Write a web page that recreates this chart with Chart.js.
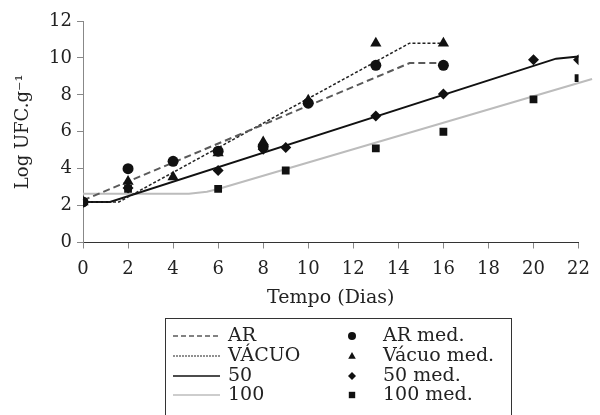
<!DOCTYPE html>
<html>
<head>
<meta charset="utf-8">
<script src="https://cdn.jsdelivr.net/npm/chart.js@4/dist/chart.umd.min.js"></script>
<style>
  html, body { margin: 0; padding: 0; background: #fff; }
  #wrap { width: 600px; height: 415px; }
</style>
</head>
<body>
<div id="wrap"><canvas id="grafico" width="600" height="415"></canvas></div>
<script>
// Curvas ajustadas (modelo)
const arDias = [0, 14.5, 16];
const arCurva = [2.28, 9.72, 9.72];
const vacuoDias = [0, 1.6, 14.5, 16];
const vacuoCurva = [2.2, 2.2, 10.8, 10.8];
const dias50 = [0, 1.2, 21, 22];
const curva50 = [2.2, 2.2, 9.96, 10.08];
const dias100 = [0, 4.7, 5.5, 6, 22.6];
const curva100 = [2.64, 2.64, 2.75, 2.9, 8.86];

// Valores medidos
const arMedDias = [0, 2, 4, 6, 8, 10, 13, 16];
const arMed = [2.2, 4.0, 4.4, 4.95, 5.2, 7.55, 9.6, 9.6];
const vacuoMedDias = [0, 2, 4, 6, 8, 10, 13, 16];
const vacuoMed = [2.2, 3.3, 3.55, 4.85, 5.45, 7.7, 10.8, 10.8];
const med50Dias = [0, 2, 6, 8, 9, 13, 16, 20, 22];
const med50 = [2.2, 2.95, 3.9, 5.05, 5.15, 6.85, 8.05, 9.9, 9.9];
const med100Dias = [0, 2, 6, 9, 13, 16, 20, 22];
const med100 = [2.2, 2.9, 2.9, 3.9, 5.1, 6.0, 7.75, 8.9];

const xTicks = [0, 2, 4, 6, 8, 10, 12, 14, 16, 18, 20, 22];
const yTicks = [0, 2, 4, 6, 8, 10, 12];

const FONTE = '"DejaVu Serif", "Liberation Serif", serif';

const pares = (xs, ys) => xs.map((x, i) => ({ x: x, y: ys[i] }));

const linha = (label, xs, ys, cor, largura, traco) => ({
    label: label,
    data: pares(xs, ys),
    showLine: true,
    borderColor: cor,
    borderWidth: largura,
    borderDash: traco,
    pointRadius: 0,
    fill: false,
    tension: 0,
    order: 10,
    clip: false
});

const pontos = (label, xs, ys, estilo, raio, ordem) => ({
    label: label,
    data: pares(xs, ys),
    showLine: false,
    pointStyle: estilo,
    pointRadius: raio,
    pointBackgroundColor: '#111',
    pointBorderColor: '#111',
    pointBorderWidth: 0,
    order: ordem
});

const datasets = [
    linha('AR', arDias, arCurva, '#5a5a5a', 2, [7, 4]),
    linha('VÁCUO', vacuoDias, vacuoCurva, '#222', 1.5, [3, 2]),
    linha('50', dias50, curva50, '#111', 2, []),
    linha('100', dias100, curva100, '#bcbcbc', 2, []),
    pontos('AR med.', arMedDias, arMed, 'circle', 5.5, 4),
    pontos('Vácuo med.', vacuoMedDias, vacuoMed, 'triangle', 6.5, 3),
    pontos('50 med.', med50Dias, med50, 'rectRot', 5.5, 2),
    pontos('100 med.', med100Dias, med100, 'rect', 5.5, 1)
];

function marcador(ctx, estilo, x, y, r) {
    ctx.beginPath();
    if (estilo === 'circle') {
        ctx.arc(x, y, r, 0, Math.PI * 2);
    } else if (estilo === 'triangle') {
        ctx.moveTo(x, y - r);
        ctx.lineTo(x + r * 0.95, y + r * 0.7);
        ctx.lineTo(x - r * 0.95, y + r * 0.7);
    } else if (estilo === 'rectRot') {
        ctx.moveTo(x, y - r);
        ctx.lineTo(x + r, y);
        ctx.lineTo(x, y + r);
        ctx.lineTo(x - r, y);
    } else {
        ctx.rect(x - r * 0.8, y - r * 0.8, r * 1.6, r * 1.6);
    }
    ctx.closePath();
    ctx.fill();
}

// Legenda desenhada à mão (caixa com duas colunas)
const legendaCaixa = {
    id: 'legendaCaixa',
    afterDraw(chart) {
        const ctx = chart.ctx;
        const ds = chart.data.datasets;
        const linhas = [336, 356, 376, 395];
        ctx.save();
        ctx.strokeStyle = '#333';
        ctx.lineWidth = 1;
        ctx.strokeRect(165.5, 318.5, 346, 120);
        ctx.font = '19px ' + FONTE;
        ctx.fillStyle = '#222';
        ctx.textBaseline = 'middle';
        for (let i = 0; i < 4; i++) {
            const l = ds[i];
            const y = linhas[i];
            ctx.save();
            ctx.strokeStyle = l.borderColor;
            ctx.lineWidth = l.borderWidth > 1.5 ? 1.6 : 1.2;
            ctx.setLineDash(l.borderDash.length ? (i === 0 ? [5, 3] : [2, 1]) : []);
            ctx.beginPath();
            ctx.moveTo(173, y);
            ctx.lineTo(220, y);
            ctx.stroke();
            ctx.restore();
            ctx.fillText(l.label, 228, y);

            const p = ds[i + 4];
            ctx.fillStyle = '#111';
            marcador(ctx, p.pointStyle, 352, y, 4);
            ctx.fillStyle = '#222';
            ctx.fillText(p.label, 383, y);
        }
        ctx.restore();
    }
};

const ctx = document.getElementById('grafico').getContext('2d');
new Chart(ctx, {
    type: 'scatter',
    data: { datasets: datasets },
    options: {
        responsive: false,
        animation: false,
        layout: { padding: { top: 21, right: 13, bottom: 102.5, left: 0 } },
        plugins: {
            legend: { display: false },
            tooltip: { enabled: false }
        },
        scales: {
            x: {
                type: 'linear',
                min: 0,
                max: 22,
                afterBuildTicks: (s) => { s.ticks = xTicks.map(v => ({ value: v })); },
                afterFit: (s) => { s.height = 70; },
                ticks: { color: '#222', font: { family: FONTE, size: 18 }, padding: 10 },
                grid: { drawOnChartArea: false, drawTicks: true, tickLength: 6, color: '#888' },
                border: { color: '#333', width: 1 },
                title: {
                    display: true,
                    text: 'Tempo (Dias)',
                    color: '#222',
                    font: { family: FONTE, size: 19 },
                    padding: { top: 0, bottom: 3 }
                }
            },
            y: {
                min: 0,
                max: 12,
                afterBuildTicks: (s) => { s.ticks = yTicks.map(v => ({ value: v })); },
                afterFit: (s) => { s.width = 83; },
                ticks: { color: '#222', font: { family: FONTE, size: 18 }, padding: 5 },
                grid: { drawOnChartArea: false, drawTicks: true, tickLength: 6, color: '#888' },
                border: { color: '#888', width: 1 },
                title: {
                    display: true,
                    text: 'Log UFC.g⁻¹',
                    color: '#222',
                    font: { family: FONTE, size: 18 },
                    padding: { top: 13, bottom: 0 }
                }
            }
        }
    },
    plugins: [legendaCaixa]
});
</script>
</body>
</html>
